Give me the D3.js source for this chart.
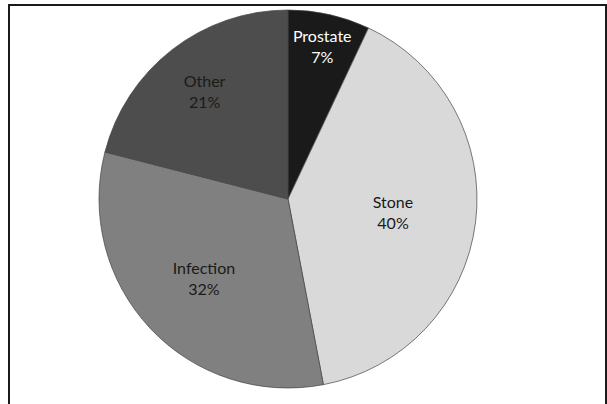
<!DOCTYPE html>
<html>
<head>
<meta charset="utf-8">
<script src="https://cdn.jsdelivr.net/npm/d3@7"></script>
<style>
  html, body { margin: 0; padding: 0; background: #fff; }
  svg { display: block; }
</style>
</head>
<body>
<svg id="chart" width="607" height="404"></svg>
<script>
const categories = ['Prostate', 'Stone', 'Infection', 'Other'];
const values = [7, 40, 32, 21];
const labels = ['7%', '40%', '32%', '21%'];

const colors = ['#1a1a1a', '#d9d9d9', '#808080', '#4d4d4d'];
const textColors = ['#ffffff', '#1a1a1a', '#1a1a1a', '#1a1a1a'];
// how far out each label sits, as a share of the radius
const labelRadius = [0.83, 0.56, 0.61, 0.72];

const svg = d3.select('#chart');
const width = +svg.attr('width');
const height = +svg.attr('height');

// frame (open at the bottom)
svg.append('path')
  .attr('d', 'M9,' + height + ' V5 H606 V' + height)
  .attr('fill', 'none')
  .attr('stroke', '#1a1a1a')
  .attr('stroke-width', 2);

const cx = 288;
const cy = 199;
const radius = 189;

const pie = d3.pie().sort(null).value(d => d);
const arcs = pie(values);
const arc = d3.arc().innerRadius(0).outerRadius(radius);

const g = svg.append('g').attr('transform', 'translate(' + cx + ',' + cy + ')');

g.selectAll('path.slice')
  .data(arcs)
  .enter()
  .append('path')
  .attr('class', 'slice')
  .attr('d', arc)
  .attr('fill', (d, i) => colors[i])
  .attr('stroke', '#444')
  .attr('stroke-width', 0.7);

const label = g.selectAll('text.label')
  .data(arcs)
  .enter()
  .append('text')
  .attr('class', 'label')
  .attr('transform', (d, i) => {
    const r = radius * labelRadius[i];
    const la = d3.arc().innerRadius(r).outerRadius(r);
    const c = la.centroid(d);
    return 'translate(' + c[0] + ',' + c[1] + ')';
  })
  .attr('text-anchor', 'middle')
  .attr('fill', (d, i) => textColors[i])
  .style('font-family', 'Lato, "Open Sans", sans-serif')
  .style('font-size', '16px');

label.append('tspan')
  .attr('x', 0)
  .attr('y', -4)
  .text((d, i) => categories[i]);

label.append('tspan')
  .attr('x', 0)
  .attr('y', 17)
  .text((d, i) => labels[i]);
</script>
</body>
</html>
